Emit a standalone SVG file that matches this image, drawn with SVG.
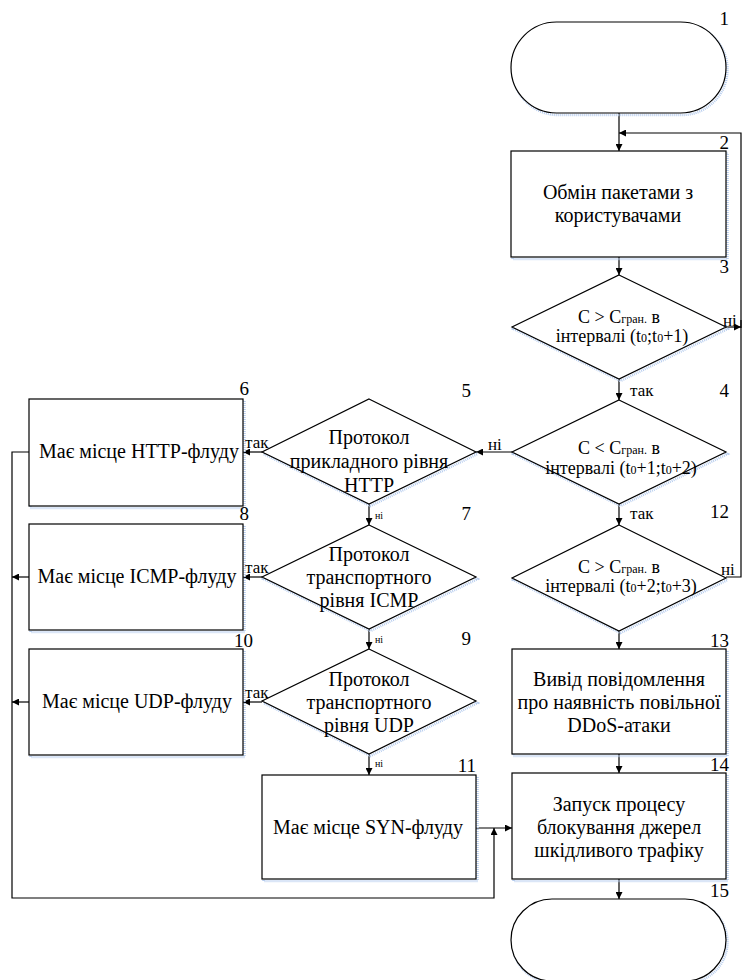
<svg xmlns="http://www.w3.org/2000/svg" width="744" height="980" viewBox="0 0 744 980" font-family="Liberation Serif, Times New Roman, serif">
<style>
.shape{fill:#fff;stroke:#000;stroke-width:1.2}
.shadow{fill:none;stroke:#b7cdee;stroke-width:2.5;stroke-dasharray:1 1}
.ln{fill:none;stroke:#000;stroke-width:1.2}
text{font-family:'Liberation Serif','Times New Roman',serif;fill:#000}
.t{font-size:20px;text-anchor:middle}
.d{font-size:18px;text-anchor:middle}
.num{font-size:19px;text-anchor:end}
.lbl{font-size:17px}
.sm{font-size:10px}
.sub{font-size:12px}
</style>
<defs>
<marker id="ah" viewBox="0 0 10 10" refX="10" refY="5" markerWidth="8" markerHeight="7" markerUnits="userSpaceOnUse" orient="auto">
<path d="M0,0 L10,5 L0,10 z" fill="#000"/>
</marker>
</defs>
<rect width="744" height="980" fill="#fff"/>

<g id="connectors">
<line class="ln" x1="619" y1="113" x2="619" y2="151" marker-end="url(#ah)"/>
<polyline class="ln" points="741,328 741,133 619,133" marker-end="url(#ah)"/>
<line class="ln" x1="619" y1="257" x2="619" y2="275" marker-end="url(#ah)"/>
<line class="ln" x1="726" y1="327" x2="741" y2="327" marker-end="url(#ah)"/>
<polyline class="ln" points="726,577 741,577 741,320"/>
<line class="ln" x1="619" y1="379" x2="619" y2="400" marker-end="url(#ah)"/>
<line class="ln" x1="619" y1="504" x2="619" y2="525" marker-end="url(#ah)"/>
<line class="ln" x1="619" y1="631" x2="619" y2="649" marker-end="url(#ah)"/>
<line class="ln" x1="619" y1="754" x2="619" y2="773" marker-end="url(#ah)"/>
<line class="ln" x1="619" y1="879" x2="619" y2="899" marker-end="url(#ah)"/>
<line class="ln" x1="512" y1="452" x2="476" y2="452" marker-end="url(#ah)"/>
<line class="ln" x1="262" y1="452" x2="243" y2="452" marker-end="url(#ah)"/>
<line class="ln" x1="262" y1="577" x2="243" y2="577" marker-end="url(#ah)"/>
<line class="ln" x1="262" y1="702" x2="243" y2="702" marker-end="url(#ah)"/>
<line class="ln" x1="369" y1="504" x2="369" y2="525" marker-end="url(#ah)"/>
<line class="ln" x1="369" y1="629" x2="369" y2="649" marker-end="url(#ah)"/>
<line class="ln" x1="369" y1="754" x2="369" y2="775" marker-end="url(#ah)"/>
<polyline class="ln" points="29,452 12,452 12,898 494,898 494,828" marker-end="url(#ah)"/>
<line class="ln" x1="29" y1="577" x2="12" y2="577" marker-end="url(#ah)"/>
<line class="ln" x1="29" y1="702" x2="12" y2="702" marker-end="url(#ah)"/>
<line class="ln" x1="476" y1="828" x2="512" y2="828" marker-end="url(#ah)"/>
<text class="lbl" x="723" y="326">ні</text>
<text class="lbl" x="721" y="575">ні</text>
<text class="lbl" x="630" y="396">так</text>
<text class="lbl" x="630" y="519">так</text>
<text class="lbl" x="488" y="450">ні</text>
<text class="lbl" x="245" y="448">так</text>
<text class="lbl" x="245" y="573">так</text>
<text class="lbl" x="245" y="698">так</text>
<text class="sm" x="375" y="519">ні</text>
<text class="sm" x="375" y="643">ні</text>
<text class="sm" x="375" y="767">ні</text>
</g>

<g id="n1">
<rect class="shadow" x="512.5" y="24" width="215" height="91" rx="45.5"/>
<rect class="shape" x="511" y="22" width="215" height="91" rx="45.5"/>
<text class="num" x="729" y="25">1</text>
</g>

<g id="n2">
<rect class="shadow" x="512.5" y="153" width="215" height="106"/>
<rect class="shape" x="511" y="151" width="215" height="106"/>
<text class="num" x="729" y="149">2</text>
<text class="t" x="618" y="199">Обмін пакетами з</text>
<text class="t" x="618" y="222">користувачами</text>
</g>

<g id="n3">
<polygon class="shadow" points="620.5,277 727.5,329 620.5,381 513.5,329"/>
<polygon class="shape" points="619,275 726,327 619,379 512,327"/>
<text class="num" x="729" y="273">3</text>
<text class="d" x="619" y="323">C &gt; C<tspan class="sub">гран.</tspan> в</text>
<text class="d" x="622" y="342">інтервалі (t<tspan class="sub">0</tspan>;t<tspan class="sub">0</tspan>+1)</text>
</g>

<g id="n4">
<polygon class="shadow" points="620.5,402 727.5,454 620.5,506 513.5,454"/>
<polygon class="shape" points="619,400 726,452 619,504 512,452"/>
<text class="num" x="729" y="397">4</text>
<text class="d" x="619" y="454">C &lt; C<tspan class="sub">гран.</tspan> в</text>
<text class="d" x="621" y="474">інтервалі  (t<tspan class="sub">0</tspan>+1;t<tspan class="sub">0</tspan>+2)</text>
</g>

<g id="n12">
<polygon class="shadow" points="620.5,527 727.5,580 620.5,633 513.5,580"/>
<polygon class="shape" points="619,525 726,578 619,631 512,578"/>
<text class="num" x="729" y="518">12</text>
<text class="d" x="619" y="573">C &gt; C<tspan class="sub">гран.</tspan> в</text>
<text class="d" x="621" y="592">інтервалі  (t<tspan class="sub">0</tspan>+2;t<tspan class="sub">0</tspan>+3)</text>
</g>

<g id="n13">
<rect class="shadow" x="513.5" y="651" width="214" height="105"/>
<rect class="shape" x="512" y="649" width="214" height="105"/>
<text class="num" x="729" y="647">13</text>
<text class="t" x="619" y="686">Вивід повідомлення</text>
<text class="t" x="619" y="709">про наявність повільної</text>
<text class="t" x="619" y="732">DDoS-атаки</text>
</g>

<g id="n14">
<rect class="shadow" x="513.5" y="775" width="214" height="106"/>
<rect class="shape" x="512" y="773" width="214" height="106"/>
<text class="num" x="729" y="771">14</text>
<text class="t" x="619" y="811">Запуск процесу</text>
<text class="t" x="619" y="834">блокування джерел</text>
<text class="t" x="619" y="857">шкідливого трафіку</text>
</g>

<g id="n15">
<rect class="shadow" x="512.5" y="901" width="215" height="82" rx="41"/>
<rect class="shape" x="511" y="899" width="215" height="82" rx="41"/>
<text class="num" x="729" y="897">15</text>
</g>

<g id="n5">
<polygon class="shadow" points="370.5,401 477.5,454 370.5,506 263.5,454"/>
<polygon class="shape" points="369,399 476,452 369,504 262,452"/>
<text class="num" x="471" y="397">5</text>
<text class="t" x="369" y="444">Протокол</text>
<text class="t" x="369" y="468">прикладного рівня</text>
<text class="t" x="369" y="492">HTTP</text>
</g>

<g id="n7">
<polygon class="shadow" points="370.5,527 477.5,579 370.5,631 263.5,579"/>
<polygon class="shape" points="369,525 476,577 369,629 262,577"/>
<text class="num" x="471" y="520">7</text>
<text class="t" x="369" y="561">Протокол</text>
<text class="t" x="369" y="584">транспортного</text>
<text class="t" x="369" y="607">рівня ICMP</text>
</g>

<g id="n9">
<polygon class="shadow" points="370.5,651 477.5,703 370.5,756 263.5,703"/>
<polygon class="shape" points="369,649 476,701 369,754 262,701"/>
<text class="num" x="471" y="645">9</text>
<text class="t" x="369" y="686">Протокол</text>
<text class="t" x="369" y="709">транспортного</text>
<text class="t" x="369" y="732">рівня UDP</text>
</g>

<g id="n11">
<rect class="shadow" x="263.5" y="777" width="214" height="104"/>
<rect class="shape" x="262" y="775" width="214" height="104"/>
<text class="num" x="476" y="772">11</text>
<text class="t" x="368" y="834">Має місце SYN-флуду</text>
</g>

<g id="n6">
<rect class="shadow" x="30.5" y="401" width="214" height="107"/>
<rect class="shape" x="29" y="399" width="214" height="107"/>
<text class="num" x="249" y="395">6</text>
<text class="t" x="139" y="458">Має місце HTTP-флуду</text>
</g>

<g id="n8">
<rect class="shadow" x="30.5" y="526" width="214" height="106"/>
<rect class="shape" x="29" y="524" width="214" height="106"/>
<text class="num" x="249" y="520">8</text>
<text class="t" x="137" y="583">Має місце ICMP-флуду</text>
</g>

<g id="n10">
<rect class="shadow" x="30.5" y="651" width="214" height="106"/>
<rect class="shape" x="29" y="649" width="214" height="106"/>
<text class="num" x="253" y="647">10</text>
<text class="t" x="137" y="708">Має місце UDP-флуду</text>
</g>
</svg>
